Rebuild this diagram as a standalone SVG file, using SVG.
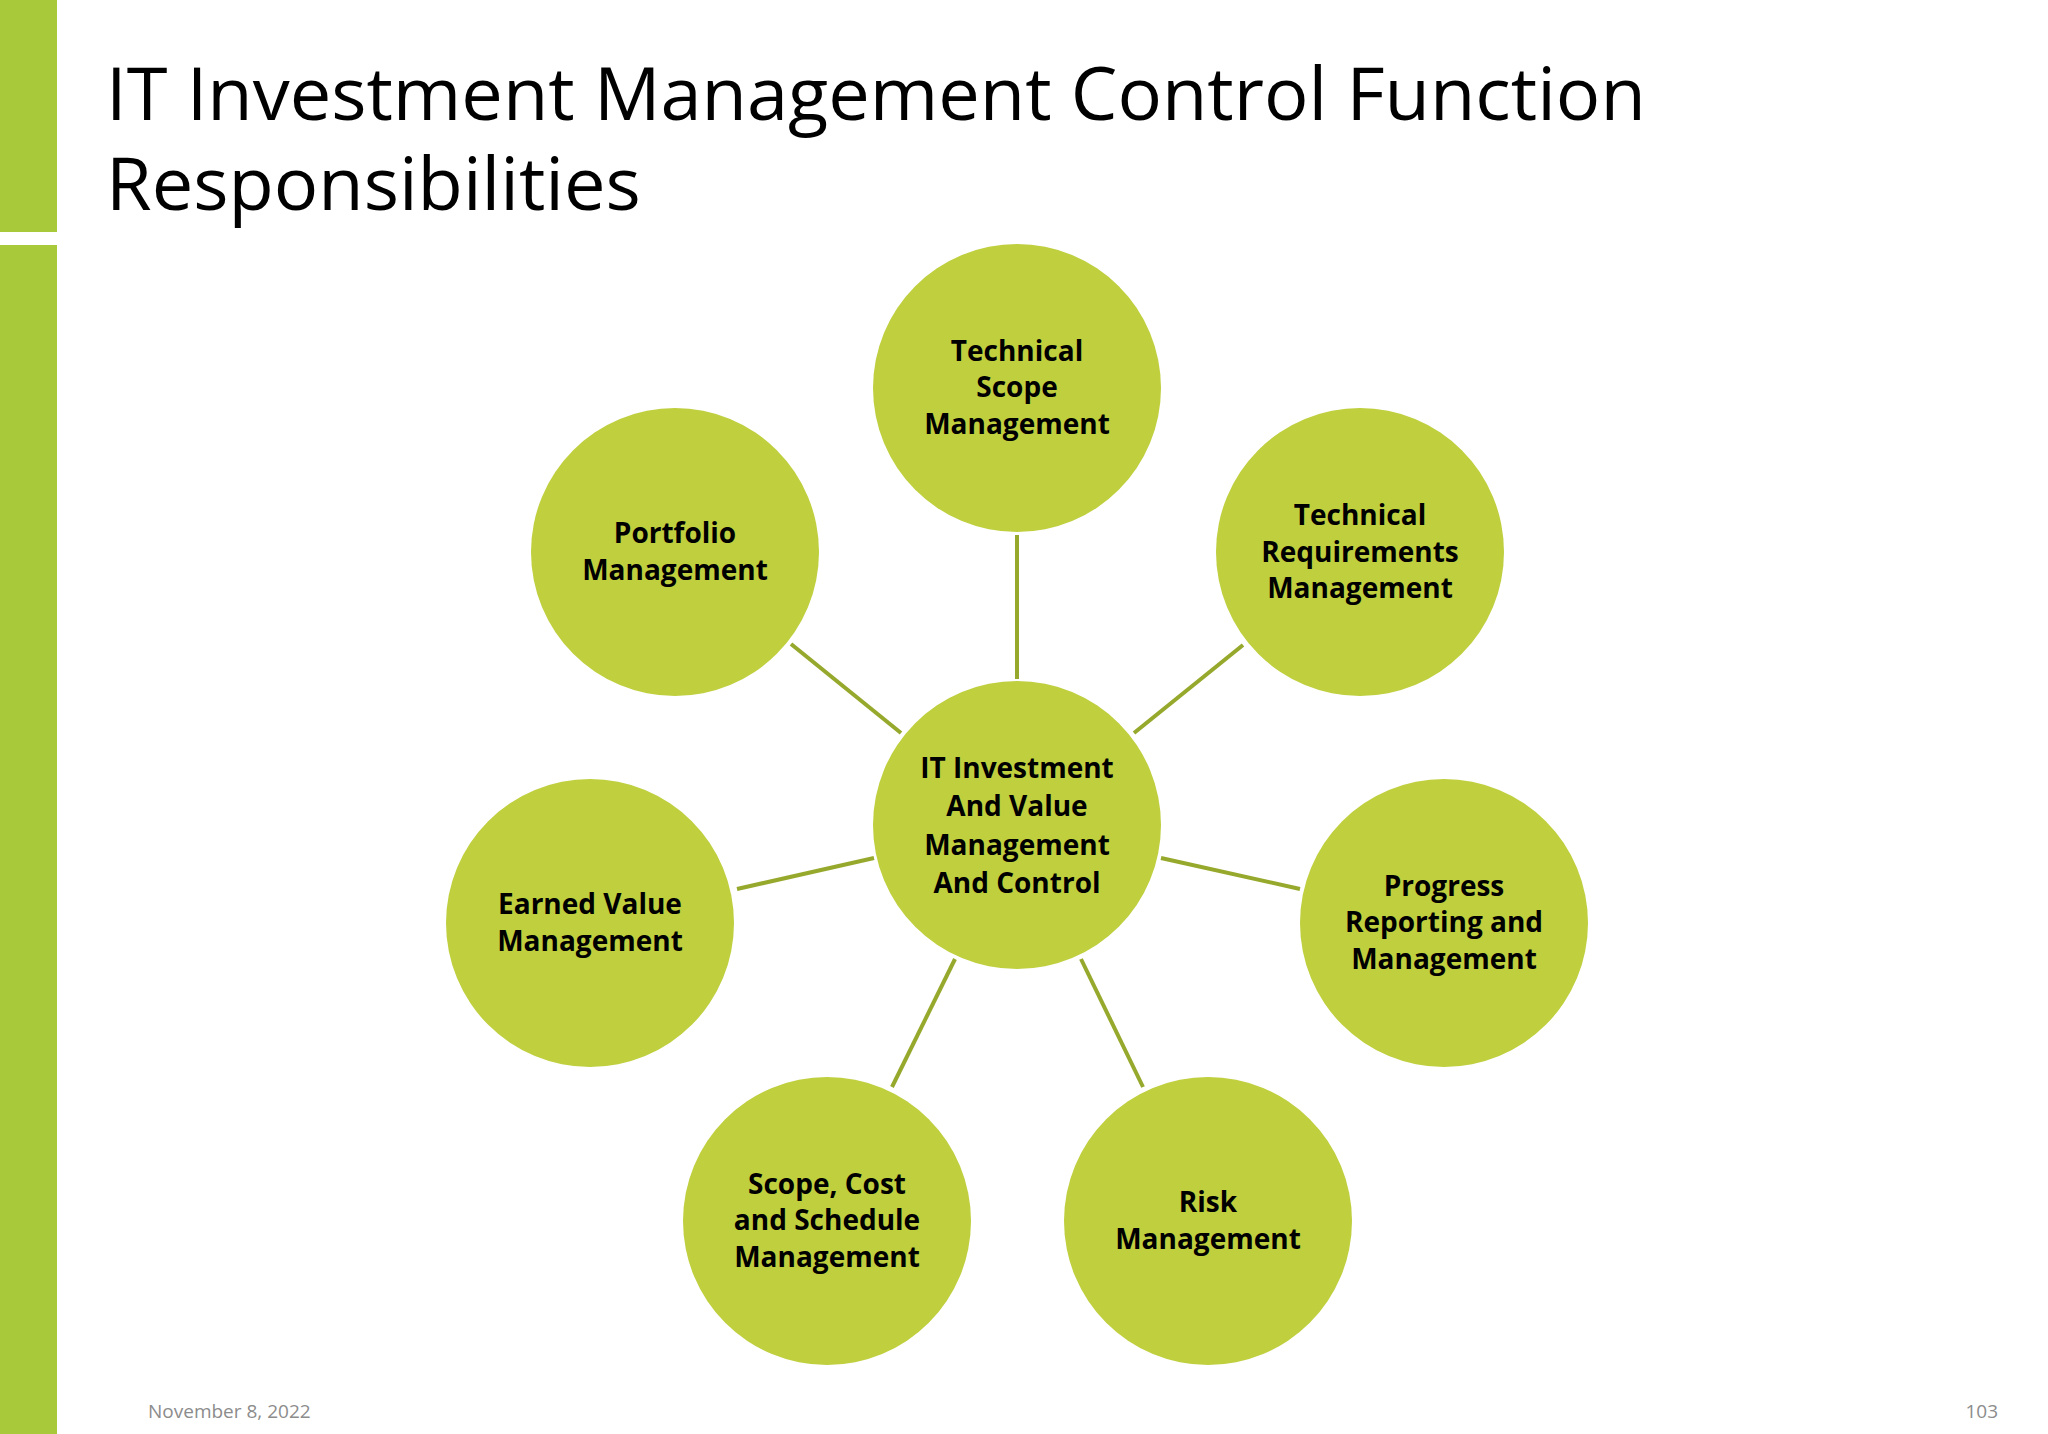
<svg xmlns="http://www.w3.org/2000/svg" width="2048" height="1434" viewBox="0 0 2048 1434">
<style>
.n{fill:#bfcf3e}
.t{font-family:"Open Sans","Liberation Sans",sans-serif;font-weight:bold;font-size:28px;fill:#000;text-anchor:middle}
.c line{stroke:#97a92c;stroke-width:4}
.f{font-family:"Open Sans","Liberation Sans",sans-serif;font-size:19px;fill:#8c8c8c}
.h{font-family:"Open Sans","Liberation Sans",sans-serif;font-size:74px;fill:#000}
</style>
<rect width="2048" height="1434" fill="#fff"/>
<rect x="0" y="0" width="57" height="232" fill="#a8c93a"/>
<rect x="0" y="245" width="57" height="1189" fill="#a8c93a"/>
<text class="h" x="106" y="120">IT Investment Management Control Function</text>
<text class="h" x="106" y="210">Responsibilities</text>
<g class="c" id="connectors">
<line x1="1017" y1="535" x2="1017" y2="679"/>
<line x1="791" y1="644" x2="901" y2="733"/>
<line x1="1243" y1="645" x2="1134" y2="733"/>
<line x1="737" y1="889" x2="874" y2="858"/>
<line x1="1161" y1="858" x2="1300" y2="889"/>
<line x1="955" y1="959" x2="892" y2="1087"/>
<line x1="1081" y1="959" x2="1143" y2="1087"/>
</g>
<g id="center"><circle class="n" cx="1017" cy="825" r="144"/>
<text class="t" x="1017" y="778">IT Investment</text><text class="t" x="1017" y="816">And Value</text><text class="t" x="1017" y="855">Management</text><text class="t" x="1017" y="893">And Control</text></g>
<g id="tsm"><circle class="n" cx="1017" cy="388" r="144"/>
<text class="t" x="1017" y="361">Technical</text><text class="t" x="1017" y="397">Scope</text><text class="t" x="1017" y="434">Management</text></g>
<g id="trm"><circle class="n" cx="1360" cy="552" r="144"/>
<text class="t" x="1360" y="525">Technical</text><text class="t" x="1360" y="562">Requirements</text><text class="t" x="1360" y="598">Management</text></g>
<g id="pm"><circle class="n" cx="675" cy="552" r="144"/>
<text class="t" x="675" y="543">Portfolio</text><text class="t" x="675" y="580">Management</text></g>
<g id="evm"><circle class="n" cx="590" cy="923" r="144"/>
<text class="t" x="590" y="914">Earned Value</text><text class="t" x="590" y="951">Management</text></g>
<g id="prm"><circle class="n" cx="1444" cy="923" r="144"/>
<text class="t" x="1444" y="896">Progress</text><text class="t" x="1444" y="932">Reporting and</text><text class="t" x="1444" y="969">Management</text></g>
<g id="scs"><circle class="n" cx="827" cy="1221" r="144"/>
<text class="t" x="827" y="1194">Scope, Cost</text><text class="t" x="827" y="1230">and Schedule</text><text class="t" x="827" y="1267">Management</text></g>
<g id="rm"><circle class="n" cx="1208" cy="1221" r="144"/>
<text class="t" x="1208" y="1212">Risk</text><text class="t" x="1208" y="1249">Management</text></g>
<text class="f" x="148" y="1418">November 8, 2022</text>
<text class="f" x="1998" y="1418" text-anchor="end">103</text>
</svg>
